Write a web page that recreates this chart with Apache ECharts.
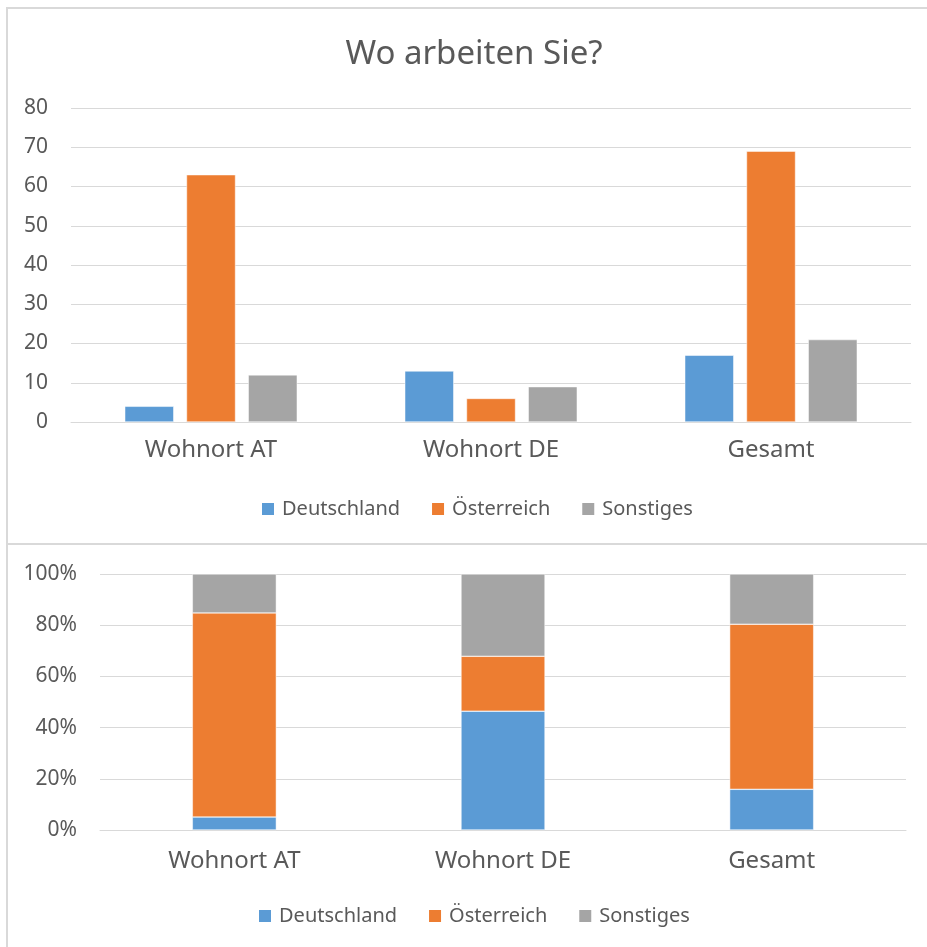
<!DOCTYPE html>
<html>
<head>
<meta charset="utf-8">
<script src="https://cdn.jsdelivr.net/npm/echarts@6/dist/echarts.min.js"></script>
<style>
  html, body { margin: 0; padding: 0; background: #fff; }
  #main { width: 927px; height: 947px; }
</style>
</head>
<body>
<div id="main"></div>
<script>
var categories = ['Wohnort AT', 'Wohnort DE', 'Gesamt'];
var seriesNames = ['Deutschland', 'Österreich', 'Sonstiges'];
var deutschland = [4, 13, 17];
var oesterreich = [63, 6, 69];
var sonstiges = [12, 9, 21];
var countTicks = [0, 10, 20, 30, 40, 50, 60, 70, 80];
var percentTicks = ['0%', '20%', '40%', '60%', '80%', '100%'];

var colors = ['#5b9bd5', '#ed7d31', '#a5a5a5'];
var textColor = '#595959';
var font = 'Noto Sans';

var counts = [deutschland, oesterreich, sonstiges];
var totals = categories.map(function(c, i) {
    return deutschland[i] + oesterreich[i] + sonstiges[i];
});
// Anteile für das 100%-Diagramm
var shares = counts.map(function(arr) {
    return arr.map(function(v, i) { return v / totals[i] * 100; });
});

var myChart = echarts.init(document.getElementById('main'));

var series = [];
counts.forEach(function(arr, k) {
    series.push({
        name: seriesNames[k],
        type: 'bar',
        xAxisIndex: 0,
        yAxisIndex: 0,
        data: arr,
        barWidth: 49,
        barGap: '26%',
        itemStyle: { color: colors[k], borderColor: '#fff', borderWidth: 0.5 },
        silent: true
    });
});
shares.forEach(function(arr, k) {
    series.push({
        name: seriesNames[k],
        type: 'bar',
        stack: 'pct',
        xAxisIndex: 1,
        yAxisIndex: 1,
        data: arr,
        barWidth: 84,
        itemStyle: { color: colors[k], borderColor: '#fff', borderWidth: 0.5 },
        silent: true
    });
});

var legendItem = {
    data: seriesNames,
    icon: 'rect',
    itemWidth: 14,
    itemHeight: 14,
    itemGap: 30,
    textStyle: { color: textColor, fontSize: 20, fontFamily: font, padding: [0, 0, 0, 2] },
    selectedMode: false
};

var option = {
    animation: false,
    backgroundColor: '#fff',
    textStyle: { fontFamily: font },
    title: {
        text: 'Wo arbeiten Sie?',
        left: 469,
        textAlign: 'center',
        top: 33,
        textStyle: { color: textColor, fontSize: 33, fontWeight: 'normal', fontFamily: font }
    },
    legend: [
        Object.assign({ left: 255, top: 494 }, legendItem),
        Object.assign({ left: 252, top: 901 }, legendItem)
    ],
    grid: [
        { left: 71, right: 16, top: 108, height: 314 },
        { left: 100, right: 21, top: 574, height: 256 }
    ],
    xAxis: [
        {
            type: 'category', gridIndex: 0, data: categories,
            axisTick: { show: false },
            axisLine: { lineStyle: { color: '#d9d9d9', width: 1 } },
            axisLabel: { color: textColor, fontSize: 24, margin: 16, fontFamily: font }
        },
        {
            type: 'category', gridIndex: 1, data: categories,
            axisTick: { show: false },
            axisLine: { lineStyle: { color: '#d9d9d9', width: 1 } },
            axisLabel: { color: textColor, fontSize: 24, margin: 19, fontFamily: font }
        }
    ],
    yAxis: [
        {
            type: 'value', gridIndex: 0,
            min: countTicks[0], max: countTicks[countTicks.length - 1], interval: 10,
            axisLine: { show: false }, axisTick: { show: false },
            splitLine: { lineStyle: { color: '#d9d9d9', width: 1 } },
            axisLabel: { color: textColor, fontSize: 21, margin: 23, fontFamily: font }
        },
        {
            type: 'value', gridIndex: 1, min: 0, max: 100, interval: 20,
            axisLine: { show: false }, axisTick: { show: false },
            splitLine: { lineStyle: { color: '#d9d9d9', width: 1 } },
            axisLabel: {
                color: textColor, fontSize: 21, margin: 23, fontFamily: font,
                formatter: function(v) { return percentTicks[Math.round(v / 20)]; }
            }
        }
    ],
    graphic: [
        { type: 'rect', shape: { x: 7, y: 8, width: 930, height: 536 },
          style: { fill: 'none', stroke: '#d9d9d9', lineWidth: 2 }, silent: true, z: -1 },
        { type: 'rect', shape: { x: 7, y: 544, width: 930, height: 420 },
          style: { fill: 'none', stroke: '#d9d9d9', lineWidth: 2 }, silent: true, z: -1 }
    ],
    series: series
};

myChart.setOption(option);

window.addEventListener('resize', function() {
    myChart.resize();
});
</script>
</body>
</html>
